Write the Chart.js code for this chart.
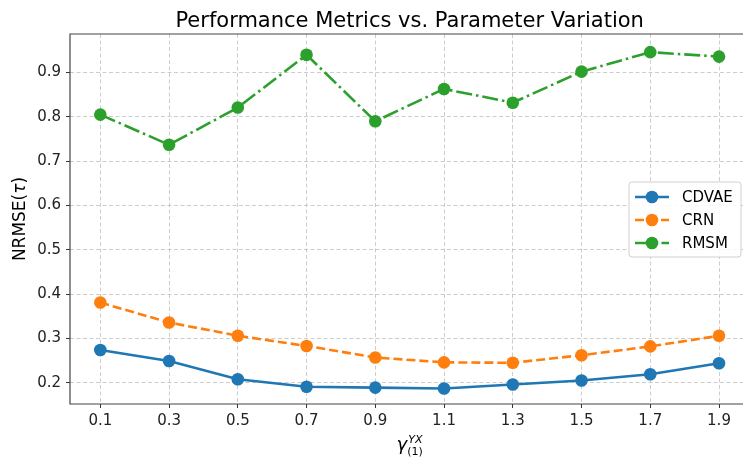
<!DOCTYPE html>
<html>
<head>
<meta charset="utf-8">
<script src="https://cdn.jsdelivr.net/npm/chart.js@4/dist/chart.umd.min.js"></script>
<style>
  html, body { margin: 0; padding: 0; background: #fff; }
</style>
</head>
<body>
<canvas id="chart" width="743" height="457"></canvas>
<script>
const gammaValues = [0.1, 0.3, 0.5, 0.7, 0.9, 1.1, 1.3, 1.5, 1.7, 1.9];
const cdvae = [0.274, 0.249, 0.208, 0.191, 0.189, 0.187, 0.196, 0.205, 0.219, 0.244];
const crn = [0.381, 0.336, 0.306, 0.283, 0.257, 0.246, 0.245, 0.262, 0.282, 0.306];
const rmsm = [0.805, 0.737, 0.821, 0.940, 0.790, 0.863, 0.832, 0.902, 0.946, 0.936];
const xTicks = [0.1, 0.3, 0.5, 0.7, 0.9, 1.1, 1.3, 1.5, 1.7, 1.9];
const yTicks = [0.2, 0.3, 0.4, 0.5, 0.6, 0.7, 0.8, 0.9];
const seriesNames = ['CDVAE', 'CRN', 'RMSM'];

const colors = ['#1f77b4', '#ff7f0e', '#2ca02c'];
const dashes = [[], [9, 4], [16, 4, 2.5, 4]];
const FONT = '"DejaVu Sans", sans-serif';

function makeDataset(i, values) {
  return {
    label: seriesNames[i],
    data: gammaValues.map((x, k) => ({ x: x, y: values[k] })),
    borderColor: colors[i],
    backgroundColor: colors[i],
    borderWidth: 2.6,
    borderDash: dashes[i],
    pointRadius: 6.3,
    pointBorderWidth: 0,
    pointHoverRadius: 6.3,
    tension: 0,
    clip: false,
  };
}

// titles, frame and legend drawn by hand (matplotlib-like look)
const decorations = {
  id: 'decorations',
  beforeDraw(chart) {
    const ctx = chart.ctx;
    ctx.save();
    ctx.fillStyle = '#fff';
    ctx.fillRect(0, 0, chart.width, chart.height);
    ctx.restore();
  },
  afterDraw(chart) {
    const ctx = chart.ctx;
    const ca = chart.chartArea;
    // the axes run past the right edge of the figure, centre them on x = 1.0
    const cx = chart.scales.x.getPixelForValue(1.0);
    const cy = (ca.top + ca.bottom) / 2;
    ctx.save();

    // frame: left, top, bottom (right spine is cropped off)
    ctx.strokeStyle = '#444';
    ctx.lineWidth = 1.2;
    ctx.beginPath();
    ctx.moveTo(ca.right + 2, ca.top);
    ctx.lineTo(ca.left, ca.top);
    ctx.lineTo(ca.left, ca.bottom);
    ctx.lineTo(ca.right + 2, ca.bottom);
    ctx.stroke();

    // title
    ctx.fillStyle = '#000';
    ctx.font = '21px ' + FONT;
    ctx.textAlign = 'center';
    ctx.textBaseline = 'alphabetic';
    ctx.fillText('Performance Metrics vs. Parameter Variation', cx, 27);

    // y label: NRMSE(τ)
    ctx.save();
    ctx.translate(21, cy);
    ctx.rotate(-Math.PI / 2);
    ctx.textAlign = 'left';
    ctx.textBaseline = 'middle';
    const parts = [['NRMSE(', ''], ['τ', 'italic '], [')', '']];
    let total = 0;
    parts.forEach(p => { ctx.font = p[1] + '17px ' + FONT; total += ctx.measureText(p[0]).width; });
    let px = -total / 2;
    parts.forEach(p => {
      ctx.font = p[1] + '17px ' + FONT;
      ctx.fillText(p[0], px, 0);
      px += ctx.measureText(p[0]).width;
    });
    ctx.restore();

    // x label: gamma^{YX}_{(1)}
    ctx.textAlign = 'left';
    ctx.textBaseline = 'alphabetic';
    ctx.font = 'italic 18px ' + FONT;
    const wg = ctx.measureText('γ').width;
    ctx.font = 'italic 11px ' + FONT;
    const wsup = ctx.measureText('YX').width;
    ctx.font = '11px ' + FONT;
    const wsub = ctx.measureText('(1)').width;
    const x0 = cx - (wg + Math.max(wsup, wsub)) / 2;
    ctx.font = 'italic 18px ' + FONT;
    ctx.fillText('γ', x0, 450);
    ctx.font = 'italic 11px ' + FONT;
    ctx.fillText('YX', x0 + wg + 1, 443);
    ctx.font = '11px ' + FONT;
    ctx.fillText('(1)', x0 + wg, 455);

    // legend
    const bx = 629, bw = 112, bh = 75;
    const by = 182;
    ctx.beginPath();
    ctx.roundRect(bx, by, bw, bh, 3);
    ctx.fillStyle = 'rgba(255,255,255,0.85)';
    ctx.fill();
    ctx.strokeStyle = '#d0d0d0';
    ctx.lineWidth = 1;
    ctx.stroke();
    ctx.font = '15px ' + FONT;
    ctx.textBaseline = 'middle';
    seriesNames.forEach((name, i) => {
      const ry = by + 15 + i * 23;
      ctx.strokeStyle = colors[i];
      ctx.lineWidth = 2.6;
      ctx.setLineDash(dashes[i]);
      ctx.beginPath();
      ctx.moveTo(bx + 6, ry);
      ctx.lineTo(bx + 40, ry);
      ctx.stroke();
      ctx.setLineDash([]);
      ctx.fillStyle = colors[i];
      ctx.beginPath();
      ctx.arc(bx + 23, ry, 6.3, 0, Math.PI * 2);
      ctx.fill();
      ctx.fillStyle = '#000';
      ctx.fillText(name, bx + 53, ry + 1);
    });
    ctx.restore();
  }
};

const gridStyle = {
  color: 'rgba(176,176,176,0.7)',
  lineWidth: 0.9,
  tickColor: '#333',
  tickLength: 4,
  tickWidth: 1,
  tickBorderDash: [],
};

new Chart(document.getElementById('chart'), {
  type: 'line',
  data: {
    datasets: [makeDataset(0, cdvae), makeDataset(1, crn), makeDataset(2, rmsm)],
  },
  options: {
    responsive: false,
    animation: false,
    layout: { autoPadding: false, padding: { top: 34, right: 0, left: 0, bottom: 0 } },
    plugins: {
      legend: { display: false },
      title: { display: false },
      tooltip: { enabled: false },
    },
    scales: {
      x: {
        type: 'linear',
        min: 0.0118,
        max: 1.9698,
        afterBuildTicks: s => { s.ticks = xTicks.map(v => ({ value: v })); },
        afterFit: s => { s.height = 53; s.paddingLeft = 0; s.paddingRight = 0; },
        grid: gridStyle,
        border: { display: false, dash: [4, 2.5] },
        ticks: {
          color: '#222',
          font: { family: FONT, size: 15 },
          padding: 4,
          maxRotation: 0,
          callback: v => v.toFixed(1),
        },
      },
      y: {
        type: 'linear',
        min: 0.152,
        max: 0.987,
        afterBuildTicks: s => { s.ticks = yTicks.map(v => ({ value: v })); },
        afterFit: s => { s.width = 70; s.paddingTop = 0; s.paddingBottom = 0; },
        grid: gridStyle,
        border: { display: false, dash: [4, 2.5] },
        ticks: {
          color: '#222',
          font: { family: FONT, size: 15 },
          padding: 5,
          callback: v => v.toFixed(1),
        },
      },
    },
  },
  plugins: [decorations],
});
</script>
</body>
</html>
